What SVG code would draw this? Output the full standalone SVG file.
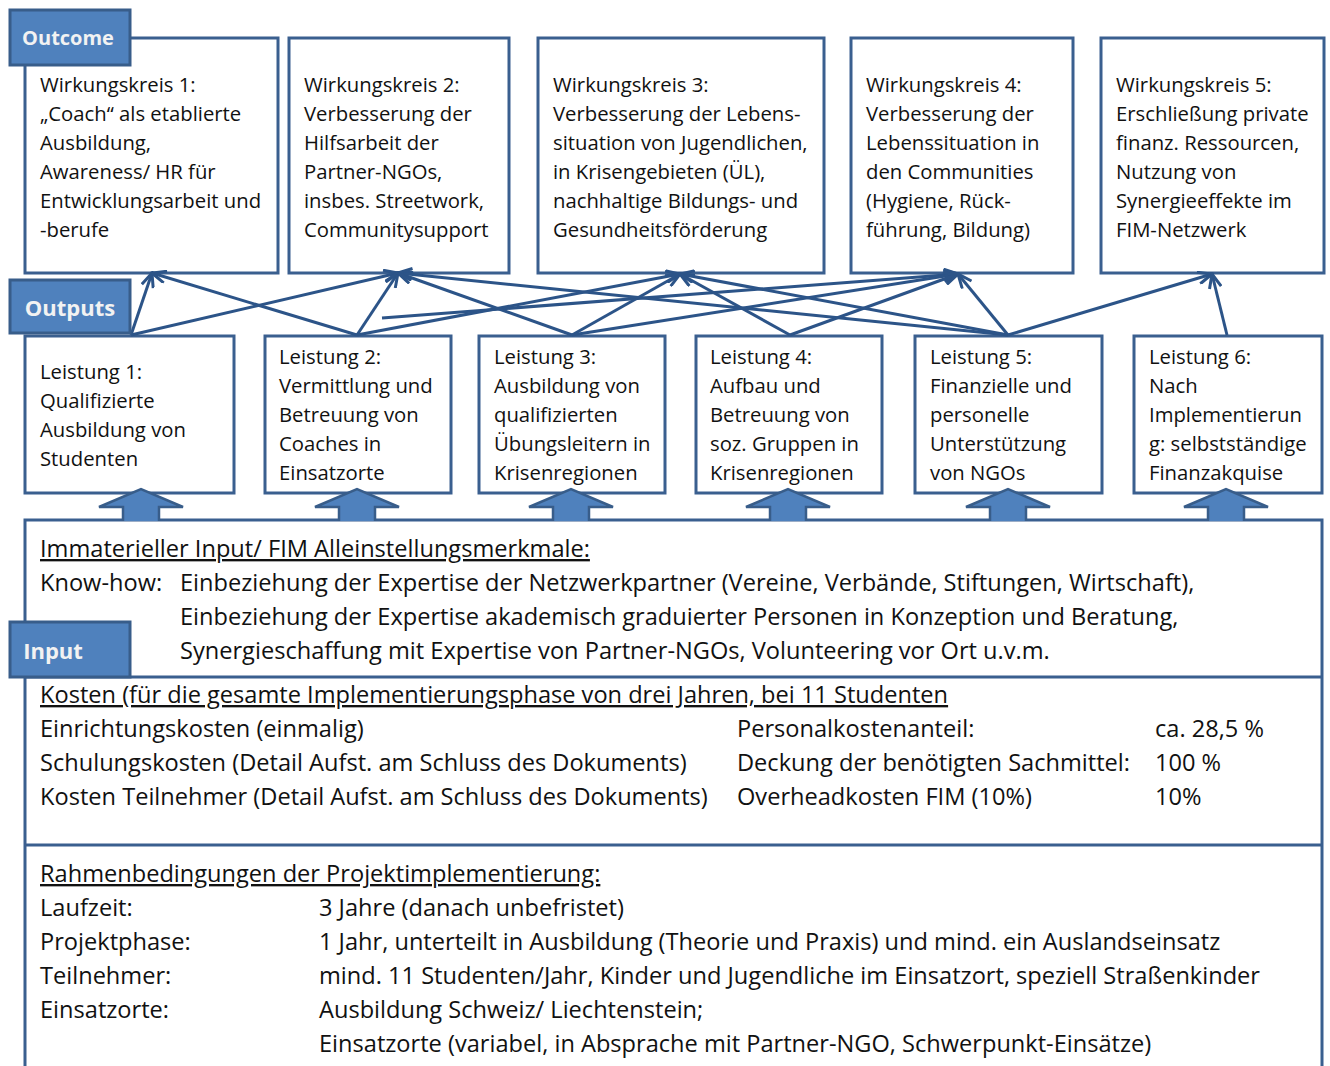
<svg xmlns="http://www.w3.org/2000/svg" width="1330" height="1066" viewBox="0 0 1330 1066">
<style>
.box{fill:#fff;stroke:#3a5f8f;stroke-width:3}
.lbl{fill:#4f81bd;stroke:#385d8a;stroke-width:3}
.lt{font-family:"Open Sans","Liberation Sans",sans-serif;font-weight:bold;fill:#f2f2f2}
.t{font-family:"Open Sans","Liberation Sans",sans-serif;font-size:20.3px;fill:#111}
.it{font-family:"Open Sans","Liberation Sans",sans-serif;font-size:23.6px;fill:#111}
.c{stroke:#2c5488;stroke-width:3;fill:none}
.ba{fill:#4f81bd;stroke:#385d8a;stroke-width:2.5}
</style>
<defs>
<marker id="ah" viewBox="0 0 18 14" refX="16" refY="7" markerWidth="18" markerHeight="14" markerUnits="userSpaceOnUse" orient="auto">
<path d="M2,1 L16,7 L2,13" fill="none" stroke="#2c5488" stroke-width="3"/>
</marker>
</defs>

<g id="input">
<rect class="box" x="25" y="520" width="1297" height="600"/>
<line x1="25" y1="677" x2="1322" y2="677" stroke="#3a5f8f" stroke-width="3"/>
<line x1="25" y1="845" x2="1322" y2="845" stroke="#3a5f8f" stroke-width="3"/>
<text class="it" x="40" y="557" text-decoration="underline">Immaterieller Input/ FIM Alleinstellungsmerkmale:</text>
<text class="it" x="40" y="591">Know-how:</text>
<text class="it" x="180" y="591">Einbeziehung der Expertise der Netzwerkpartner (Vereine, Verbände, Stiftungen, Wirtschaft),</text>
<text class="it" x="180" y="625">Einbeziehung der Expertise akademisch graduierter Personen in Konzeption und Beratung,</text>
<text class="it" x="180" y="659">Synergieschaffung mit Expertise von Partner-NGOs, Volunteering vor Ort u.v.m.</text>
<text class="it" x="40" y="703" text-decoration="underline">Kosten (für die gesamte Implementierungsphase von drei Jahren, bei 11 Studenten</text>
<text class="it" x="40" y="737">Einrichtungskosten (einmalig)</text>
<text class="it" x="737" y="737">Personalkostenanteil:</text>
<text class="it" x="1155" y="737">ca. 28,5 %</text>
<text class="it" x="40" y="771">Schulungskosten (Detail Aufst. am Schluss des Dokuments)</text>
<text class="it" x="737" y="771">Deckung der benötigten Sachmittel:</text>
<text class="it" x="1155" y="771">100 %</text>
<text class="it" x="40" y="805">Kosten Teilnehmer (Detail Aufst. am Schluss des Dokuments)</text>
<text class="it" x="737" y="805">Overheadkosten FIM (10%)</text>
<text class="it" x="1155" y="805">10%</text>
<text class="it" x="40" y="882" text-decoration="underline">Rahmenbedingungen der Projektimplementierung:</text>
<text class="it" x="40" y="916">Laufzeit:</text>
<text class="it" x="319" y="916">3 Jahre (danach unbefristet)</text>
<text class="it" x="40" y="950">Projektphase:</text>
<text class="it" x="319" y="950">1 Jahr, unterteilt in Ausbildung (Theorie und Praxis) und mind. ein Auslandseinsatz</text>
<text class="it" x="40" y="984">Teilnehmer:</text>
<text class="it" x="319" y="984">mind. 11 Studenten/Jahr, Kinder und Jugendliche im Einsatzort, speziell Straßenkinder</text>
<text class="it" x="40" y="1018">Einsatzorte:</text>
<text class="it" x="319" y="1018">Ausbildung Schweiz/ Liechtenstein;</text>
<text class="it" x="319" y="1052">Einsatzorte (variabel, in Absprache mit Partner-NGO, Schwerpunkt-Einsätze)</text>
</g>

<g id="wk1"><rect class="box" x="25" y="38" width="253" height="235"/>
<text class="t" x="40" y="92">Wirkungskreis 1:</text><text class="t" x="40" y="121">„Coach“ als etablierte</text><text class="t" x="40" y="150">Ausbildung,</text><text class="t" x="40" y="179">Awareness/ HR für</text><text class="t" x="40" y="208">Entwicklungsarbeit und</text><text class="t" x="40" y="237">-berufe</text></g>
<g id="wk2"><rect class="box" x="289" y="38" width="220" height="235"/>
<text class="t" x="304" y="92">Wirkungskreis 2:</text><text class="t" x="304" y="121">Verbesserung der</text><text class="t" x="304" y="150">Hilfsarbeit der</text><text class="t" x="304" y="179">Partner-NGOs,</text><text class="t" x="304" y="208">insbes. Streetwork,</text><text class="t" x="304" y="237">Communitysupport</text></g>
<g id="wk3"><rect class="box" x="538" y="38" width="286" height="235"/>
<text class="t" x="553" y="92">Wirkungskreis 3:</text><text class="t" x="553" y="121">Verbesserung der Lebens-</text><text class="t" x="553" y="150">situation von Jugendlichen,</text><text class="t" x="553" y="179">in Krisengebieten (ÜL),</text><text class="t" x="553" y="208">nachhaltige Bildungs- und</text><text class="t" x="553" y="237">Gesundheitsförderung</text></g>
<g id="wk4"><rect class="box" x="851" y="38" width="222" height="235"/>
<text class="t" x="866" y="92">Wirkungskreis 4:</text><text class="t" x="866" y="121">Verbesserung der</text><text class="t" x="866" y="150">Lebenssituation in</text><text class="t" x="866" y="179">den Communities</text><text class="t" x="866" y="208">(Hygiene, Rück-</text><text class="t" x="866" y="237">führung, Bildung)</text></g>
<g id="wk5"><rect class="box" x="1101" y="38" width="223" height="235"/>
<text class="t" x="1116" y="92">Wirkungskreis 5:</text><text class="t" x="1116" y="121">Erschließung private</text><text class="t" x="1116" y="150">finanz. Ressourcen,</text><text class="t" x="1116" y="179">Nutzung von</text><text class="t" x="1116" y="208">Synergieeffekte im</text><text class="t" x="1116" y="237">FIM-Netzwerk</text></g>

<g id="l1"><rect class="box" x="25" y="336" width="209" height="157"/>
<text class="t" x="40" y="379">Leistung 1:</text><text class="t" x="40" y="408">Qualifizierte</text><text class="t" x="40" y="437">Ausbildung von</text><text class="t" x="40" y="466">Studenten</text></g>
<g id="l2"><rect class="box" x="265" y="336" width="186" height="157"/>
<text class="t" x="279" y="364">Leistung 2:</text><text class="t" x="279" y="393">Vermittlung und</text><text class="t" x="279" y="422">Betreuung von</text><text class="t" x="279" y="451">Coaches in</text><text class="t" x="279" y="480">Einsatzorte</text></g>
<g id="l3"><rect class="box" x="479" y="336" width="186" height="157"/>
<text class="t" x="494" y="364">Leistung 3:</text><text class="t" x="494" y="393">Ausbildung von</text><text class="t" x="494" y="422">qualifizierten</text><text class="t" x="494" y="451">Übungsleitern in</text><text class="t" x="494" y="480">Krisenregionen</text></g>
<g id="l4"><rect class="box" x="696" y="336" width="186" height="157"/>
<text class="t" x="710" y="364">Leistung 4:</text><text class="t" x="710" y="393">Aufbau und</text><text class="t" x="710" y="422">Betreuung von</text><text class="t" x="710" y="451">soz. Gruppen in</text><text class="t" x="710" y="480">Krisenregionen</text></g>
<g id="l5"><rect class="box" x="915" y="336" width="187" height="157"/>
<text class="t" x="930" y="364">Leistung 5:</text><text class="t" x="930" y="393">Finanzielle und</text><text class="t" x="930" y="422">personelle</text><text class="t" x="930" y="451">Unterstützung</text><text class="t" x="930" y="480">von NGOs</text></g>
<g id="l6"><rect class="box" x="1134" y="336" width="188" height="157"/>
<text class="t" x="1149" y="364">Leistung 6:</text><text class="t" x="1149" y="393">Nach</text><text class="t" x="1149" y="422">Implementierun</text><text class="t" x="1149" y="451">g: selbstständige</text><text class="t" x="1149" y="480">Finanzakquise</text></g>

<g id="block-arrows">
<path class="ba" d="M123,521 L123,507 L99,507 L141,489 L183,507 L159,507 L159,521"/>
<path class="ba" d="M339,521 L339,507 L315,507 L357,489 L399,507 L375,507 L375,521"/>
<path class="ba" d="M553,521 L553,507 L529,507 L571,489 L613,507 L589,507 L589,521"/>
<path class="ba" d="M770,521 L770,507 L746,507 L788,489 L830,507 L806,507 L806,521"/>
<path class="ba" d="M990,521 L990,507 L966,507 L1008,489 L1050,507 L1026,507 L1026,521"/>
<path class="ba" d="M1208,521 L1208,507 L1184,507 L1226,489 L1268,507 L1244,507 L1244,521"/>
</g>

<g id="connectors">
<line class="c" x1="131" y1="335" x2="152" y2="273" marker-end="url(#ah)"/>
<line class="c" x1="131" y1="335" x2="398" y2="273" marker-end="url(#ah)"/>
<line class="c" x1="357" y1="335" x2="152" y2="273" marker-end="url(#ah)"/>
<line class="c" x1="357" y1="335" x2="398" y2="273" marker-end="url(#ah)"/>
<line class="c" x1="357" y1="335" x2="680" y2="274" marker-end="url(#ah)"/>
<line class="c" x1="382" y1="318" x2="958" y2="274" marker-end="url(#ah)"/>
<line class="c" x1="572" y1="335" x2="398" y2="273" marker-end="url(#ah)"/>
<line class="c" x1="572" y1="335" x2="680" y2="274" marker-end="url(#ah)"/>
<line class="c" x1="572" y1="335" x2="958" y2="274" marker-end="url(#ah)"/>
<line class="c" x1="790" y1="335" x2="680" y2="274" marker-end="url(#ah)"/>
<line class="c" x1="790" y1="335" x2="958" y2="274" marker-end="url(#ah)"/>
<line class="c" x1="1008" y1="335" x2="398" y2="273" marker-end="url(#ah)"/>
<line class="c" x1="1008" y1="335" x2="680" y2="274" marker-end="url(#ah)"/>
<line class="c" x1="1008" y1="335" x2="958" y2="274" marker-end="url(#ah)"/>
<line class="c" x1="1008" y1="335" x2="1212" y2="274" marker-end="url(#ah)"/>
<line class="c" x1="1227" y1="335" x2="1212" y2="274" marker-end="url(#ah)"/>
</g>

<g id="label-outcome"><rect class="lbl" x="10" y="10" width="120" height="55"/>
<text class="lt" x="68" y="45" font-size="20" text-anchor="middle">Outcome</text></g>
<g id="label-outputs"><rect class="lbl" x="10" y="280" width="120" height="53"/>
<text class="lt" x="70" y="316" font-size="22" text-anchor="middle">Outputs</text></g>
<g id="label-input"><rect class="lbl" x="10" y="622" width="120" height="55"/>
<text class="lt" x="53" y="659" font-size="22" text-anchor="middle">Input</text></g>
</svg>
